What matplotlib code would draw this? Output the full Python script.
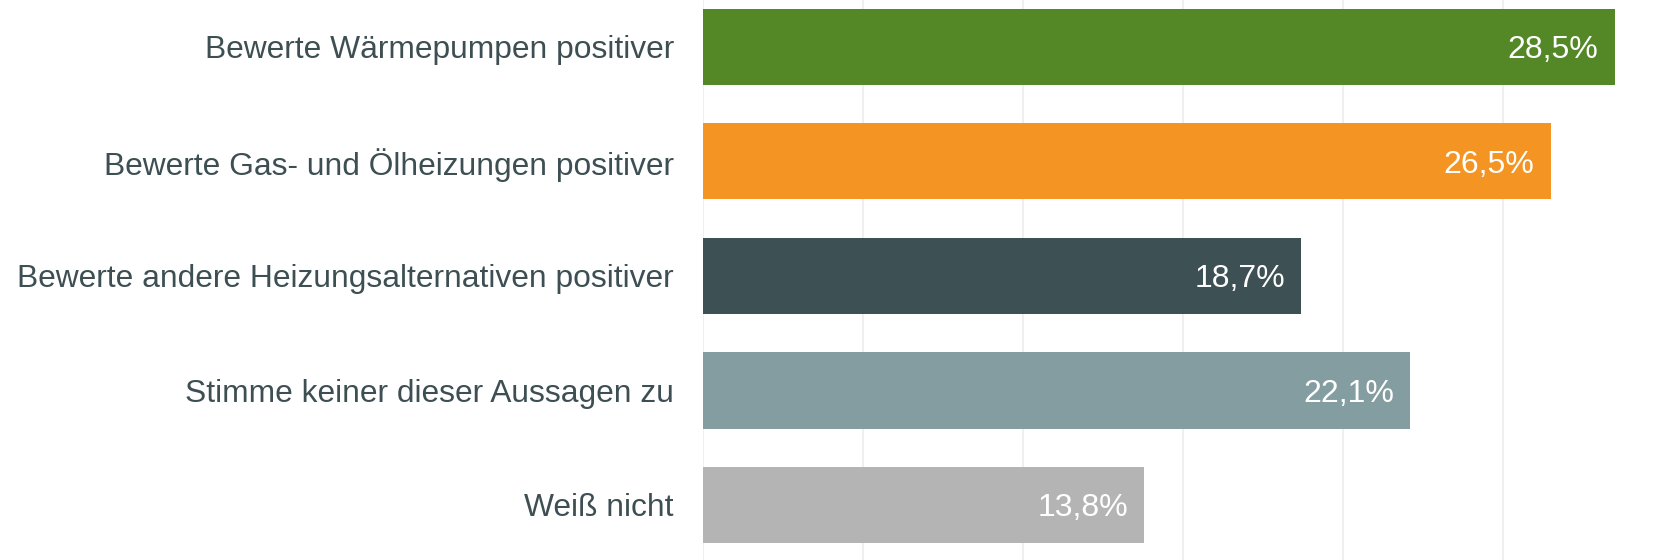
import matplotlib.pyplot as plt

plt.rcParams['font.family'] = ['Liberation Sans', 'DejaVu Sans']

# answer categories, top to bottom
categories = [
    "Bewerte Wärmepumpen positiver",
    "Bewerte Gas- und Ölheizungen positiver",
    "Bewerte andere Heizungsalternativen positiver",
    "Stimme keiner dieser Aussagen zu",
    "Weiß nicht",
]
values = [28.5, 26.5, 18.7, 22.1, 13.8]
value_labels = ["28,5%", "26,5%", "18,7%", "22,1%", "13,8%"]
colors = ["#548827", "#f39423", "#3d5054", "#849da0", "#b4b4b4"]

fig = plt.figure(figsize=(16.6, 5.6), dpi=100)
ax = fig.add_axes([703 / 1660, 0, 1 - 703 / 1660, 1])

ypos = list(range(len(categories)))
ax.barh(ypos, values, height=0.665, color=colors, zorder=2)

for y, v, lab in zip(ypos, values, value_labels):
    ax.text(v - 0.5, y, lab, ha="right", va="center_baseline", color="white", fontsize=23, zorder=3)

ax.set_xlim(0, 29.92)
ax.set_ylim(4.48, -0.407)
ax.set_xticks([0, 5, 10, 15, 20, 25])
ax.xaxis.grid(True, color="#ececec", linewidth=1.2, zorder=0)
ax.set_xticklabels([])
ax.tick_params(axis="x", length=0)

ax.set_yticks(ypos)
ax.set_yticklabels(categories, fontsize=22.9, color="#3d4f52")
ax.tick_params(axis="y", length=0, pad=21)

for s in ax.spines.values():
    s.set_visible(False)

fig.savefig("out.png", dpi=100)
